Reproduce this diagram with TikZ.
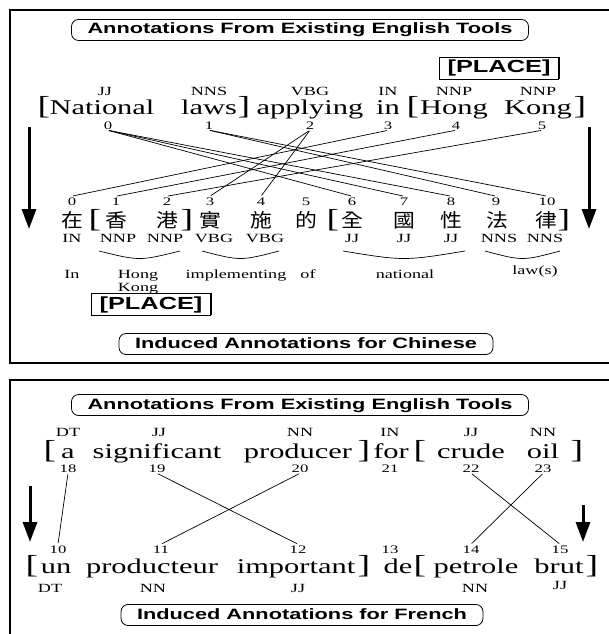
\documentclass[tikz,border=0pt]{standalone}
\usepackage{fontspec}
\setmainfont{Liberation Serif}[FakeStretch=1.45]
\newfontfamily\labelsans{Liberation Sans}[FakeStretch=1.45]
\newfontfamily\hanzi{Noto Sans CJK TC}[FakeStretch=1.15]
\usetikzlibrary{arrows.meta}

\tikzset{
  word/.style={inner sep=0pt, anchor=base, font=\fontsize{21}{21}\selectfont},
  brk/.style={inner sep=0pt, anchor=base, font=\fontsize{26}{26}\selectfont},
  tag/.style={inner sep=0pt, anchor=base, font=\fontsize{12.5}{12.5}\selectfont},
  idx/.style={inner sep=1pt, anchor=base, font=\fontsize{11.5}{11.5}\selectfont},
  gloss/.style={inner sep=0pt, anchor=base, font=\fontsize{12.5}{12.5}\selectfont},
  han/.style={inner sep=0pt, anchor=base, font=\hanzi\fontsize{19}{19}\selectfont},
  banner/.style={draw, rounded corners=7pt, line width=0.8pt, inner xsep=16pt,
    inner ysep=3.5pt, text height=11pt, text depth=3pt,
    font=\labelsans\bfseries\fontsize{15}{15}\selectfont},
  placebox/.style={draw, line width=0.8pt, inner xsep=8pt, inner ysep=3pt,
    text height=13pt, text depth=3pt,
    font=\labelsans\bfseries\fontsize{17.5}{17.5}\selectfont},
  link/.style={line width=0.7pt, shorten <=1pt, shorten >=1pt},
  flow/.style={line width=3pt, -{Triangle[length=20pt,width=14pt]}},
  panelrule/.style={line width=2pt},
  curlbar/.style={line width=0.7pt},
}

\begin{document}
\begin{tikzpicture}[x=1pt,y=-1pt]
\useasboundingbox (0,0) rectangle (608,634);

% ---------- panel frames ----------
\draw[panelrule] (612,10) -- (10,10) -- (10,363) -- (612,363);
\draw[panelrule] (612,380) -- (10,380) -- (10,640);

% ================= English -> Chinese =================
\node[banner] (topTitle) at (300,30) {Annotations From Existing English Tools};
\node[placebox] (placeEn) at (499,68) {[PLACE]};
\draw[line width=1.8pt] (placeEn.north east) -- (placeEn.south east);

% POS tags of the English sentence
\node[tag] (ptag0) at (105,95) {JJ};
\node[tag] (ptag1) at (209,95) {NNS};
\node[tag] (ptag2) at (310,95) {VBG};
\node[tag] (ptag3) at (388,95) {IN};
\node[tag] (ptag4) at (454,95) {NNP};
\node[tag] (ptag5) at (538,95) {NNP};

% English words
\node[brk]  (eb0) at (44,114) {[};
\node[word] (ew0) at (102,114) {National};
\node[word] (ew1) at (209,114) {laws};
\node[brk]  (eb1) at (244,114) {]};
\node[word] (ew2) at (310,114) {applying};
\node[word] (ew3) at (388,114) {in};
\node[brk]  (eb2) at (413,114) {[};
\node[word] (ew4) at (454,114) {Hong};
\node[word] (ew5) at (538,114) {Kong};
\node[brk]  (eb3) at (580,114) {]};

% English word positions
\node[idx] (t0) at (108,129) {0};
\node[idx] (t1) at (209,129) {1};
\node[idx] (t2) at (310,129) {2};
\node[idx] (t3) at (388,129) {3};
\node[idx] (t4) at (456,129) {4};
\node[idx] (t5) at (542,129) {5};

% Chinese character positions
\node[idx] (c0)  at (72,205)  {0};
\node[idx] (c1)  at (116,205) {1};
\node[idx] (c2)  at (167,205) {2};
\node[idx] (c3)  at (210,205) {3};
\node[idx] (c4)  at (261,205) {4};
\node[idx] (c5)  at (306,205) {5};
\node[idx] (c6)  at (352,205) {6};
\node[idx] (c7)  at (404,205) {7};
\node[idx] (c8)  at (451,205) {8};
\node[idx] (c9)  at (496,205) {9};
\node[idx] (c10) at (547,205) {10};

% Chinese characters
\node[han] (h0)  at (72,227)  {在};
\node[brk] (hb0) at (95,227)  {[};
\node[han] (h1)  at (116,227) {香};
\node[han] (h2)  at (167,227) {港};
\node[brk] (hb1) at (187,227) {]};
\node[han] (h3)  at (210,227) {實};
\node[han] (h4)  at (261,227) {施};
\node[han] (h5)  at (306,227) {的};
\node[brk] (hb2) at (333,227) {[};
\node[han] (h6)  at (352,227) {全};
\node[han] (h7)  at (404,227) {國};
\node[han] (h8)  at (451,227) {性};
\node[han] (h9)  at (497,227) {法};
\node[han] (h10) at (546,227) {律};
\node[brk] (hb3) at (564,227) {]};

% projected tags
\node[tag] (ctag0) at (72,242)  {IN};
\node[tag] (ctag1) at (118,242) {NNP};
\node[tag] (ctag2) at (165,242) {NNP};
\node[tag] (ctag3) at (214,242) {VBG};
\node[tag] (ctag4) at (265,242) {VBG};
\node[tag] (ctag6) at (352,242) {JJ};
\node[tag] (ctag7) at (404,242) {JJ};
\node[tag] (ctag8) at (451,242) {JJ};
\node[tag] (ctag9) at (499,242) {NNS};
\node[tag] (ctag10) at (545,242) {NNS};

% grouping curves under the tags
\draw[curlbar] (99,251)  .. controls (139.5,261) .. (180,251);
\draw[curlbar] (202,251) .. controls (240.5,261) .. (279,251);
\draw[curlbar] (343,251) .. controls (404,261) .. (465,251);
\draw[curlbar] (485,251) .. controls (522.5,261) .. (560,251);

% glosses
\node[gloss] (g0) at (72,278)  {In};
\node[gloss] (g1) at (138,278) {Hong};
\node[gloss] (g1b) at (138,291) {Kong};
\node[gloss] (g2) at (236,278) {implementing};
\node[gloss] (g3) at (308,278) {of};
\node[gloss] (g4) at (405,278) {national};
\node[gloss] (g5) at (535,274) {law(s)};

\node[placebox] (placeZh) at (151,304) {[PLACE]};
\draw[line width=1.8pt] (placeZh.north east) -- (placeZh.south east);

\node[banner] (zhTitle) at (306,344) {Induced Annotations for Chinese};

% word alignment links
\draw[link] (t0.south) -- (c6.north);
\draw[link] (t0.south) -- (c7.north);
\draw[link] (t0.south) -- (c8.north);
\draw[link] (t1.south) -- (c9.north);
\draw[link] (t1.south) -- (c10.north);
\draw[link] (t2.south) -- (c3.north);
\draw[link] (t2.south) -- (c4.north);
\draw[link] (t3.south) -- (c0.north);
\draw[link] (t4.south) -- (c1.north);
\draw[link] (t5.south) -- (c2.north);

% projection arrows
\coordinate (zlTop) at (29,127);  \coordinate (zlEnd) at (29,229);
\coordinate (zrTop) at (589,127); \coordinate (zrEnd) at (589,229);
\draw[flow] (zlTop) -- (zlEnd);
\draw[flow] (zrTop) -- (zrEnd);

% ================= English -> French =================
\node[banner] (botTitle) at (300,405) {Annotations From Existing English Tools};

\node[tag] (qtag18) at (68,436)  {DT};
\node[tag] (qtag19) at (159,436) {JJ};
\node[tag] (qtag20) at (300,436) {NN};
\node[tag] (qtag21) at (390,436) {IN};
\node[tag] (qtag22) at (471,436) {JJ};
\node[tag] (qtag23) at (543,436) {NN};

\node[brk]  (sb0) at (50,458)  {[};
\node[word] (sw18) at (68,458) {a};
\node[word] (sw19) at (157,458) {significant};
\node[word] (sw20) at (298,458) {producer};
\node[brk]  (sb1) at (364,458) {]};
\node[word] (sw21) at (391,458) {for};
\node[brk]  (sb2) at (420,458) {[};
\node[word] (sw22) at (471,458) {crude};
\node[word] (sw23) at (543,458) {oil};
\node[brk]  (sb3) at (577,458) {]};

\node[idx] (e18) at (68,472)  {18};
\node[idx] (e19) at (157,472) {19};
\node[idx] (e20) at (300,472) {20};
\node[idx] (e21) at (390,472) {21};
\node[idx] (e22) at (471,472) {22};
\node[idx] (e23) at (543,472) {23};

\node[idx] (f10) at (58,553)  {10};
\node[idx] (f11) at (161,553) {11};
\node[idx] (f12) at (298,553) {12};
\node[idx] (f13) at (390,553) {13};
\node[idx] (f14) at (471,553) {14};
\node[idx] (f15) at (560,553) {15};

\node[brk]  (fb0) at (32,573)  {[};
\node[word] (fw10) at (56,573) {un};
\node[word] (fw11) at (152,573) {producteur};
\node[word] (fw12) at (296,573) {important};
\node[brk]  (fb1) at (364,573) {]};
\node[word] (fw13) at (398,573) {de};
\node[brk]  (fb2) at (420,573) {[};
\node[word] (fw14) at (476,573) {petrole};
\node[word] (fw15) at (559,573) {brut};
\node[brk]  (fb3) at (592,573) {]};

\node[tag] (ftag10) at (50,592)  {DT};
\node[tag] (ftag11) at (153,592) {NN};
\node[tag] (ftag12) at (298,592) {JJ};
\node[tag] (ftag14) at (475,592) {NN};
\node[tag] (ftag15) at (560,589) {JJ};

\node[banner] (frTitle) at (302,615) {Induced Annotations for French};

\draw[link] (e18.south) -- (f10.north);
\draw[link] (e19.south) -- (f12.north);
\draw[link] (e20.south) -- (f11.north);
\draw[link] (e22.south) -- (f15.north);
\draw[link] (e23.south) -- (f14.north);

\coordinate (flTop) at (30,486);  \coordinate (flEnd) at (30,542);
\coordinate (frTop) at (583,505); \coordinate (frEnd) at (583,542);
\draw[flow] (flTop) -- (flEnd);
\draw[flow] (frTop) -- (frEnd);
\end{tikzpicture}
\end{document}
